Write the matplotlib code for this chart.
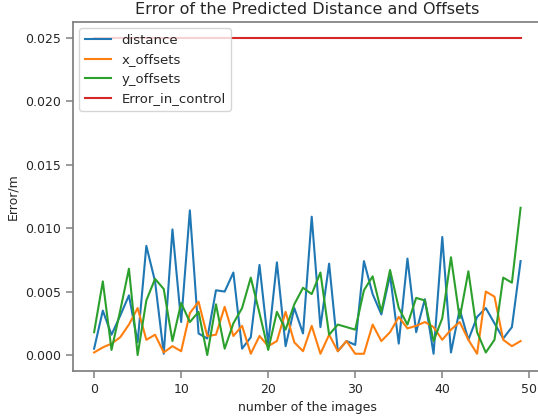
import matplotlib
matplotlib.use('Agg')
import matplotlib.pyplot as plt

# error values
distance = [0.0005, 0.0035, 0.0016, 0.0031, 0.0047, 0.0010, 0.0086, 0.0058, 0.0001, 0.0099,
            0.0026, 0.0114, 0.0017, 0.0013, 0.0051, 0.0050, 0.0065, 0.0005, 0.0014, 0.0071,
            0.0009, 0.0073, 0.0007, 0.0037, 0.0017, 0.0109, 0.0022, 0.0072, 0.0003, 0.0011,
            0.0008, 0.0074, 0.0048, 0.0032, 0.0063, 0.0009, 0.0076, 0.0018, 0.0044, 0.0001,
            0.0093, 0.0002, 0.0036, 0.0012, 0.0030, 0.0037, 0.0025, 0.0013, 0.0022, 0.0074]
x_offsets = [0.0002, 0.0006, 0.0009, 0.0014, 0.0024, 0.0037, 0.0012, 0.0016, 0.0002, 0.0007,
             0.0003, 0.0033, 0.0042, 0.0015, 0.0016, 0.0038, 0.0015, 0.0023, 0.0001, 0.0015,
             0.0007, 0.0011, 0.0034, 0.0010, 0.0003, 0.0023, 0.0001, 0.0016, 0.0003, 0.0011,
             0.0001, 0.0001, 0.0024, 0.0011, 0.0018, 0.0030, 0.0021, 0.0023, 0.0026, 0.0022,
             0.0012, 0.0020, 0.0026, 0.0012, 0.0001, 0.0050, 0.0046, 0.0012, 0.0007, 0.0011]
y_offsets = [0.0018, 0.0058, 0.0004, 0.0035, 0.0068, 0.0000, 0.0043, 0.0060, 0.0052, 0.0011,
             0.0041, 0.0026, 0.0034, 0.0000, 0.0040, 0.0005, 0.0025, 0.0037, 0.0061, 0.0033,
             0.0004, 0.0034, 0.0020, 0.0040, 0.0053, 0.0048, 0.0065, 0.0016, 0.0024, 0.0022,
             0.0020, 0.0051, 0.0062, 0.0034, 0.0067, 0.0037, 0.0024, 0.0045, 0.0043, 0.0011,
             0.0029, 0.0077, 0.0029, 0.0066, 0.0018, 0.0002, 0.0012, 0.0061, 0.0057, 0.0116]
error_in_control = [0.025] * 50
images = list(range(50))

plt.rcParams['font.family'] = 'DejaVu Sans'
plt.rcParams['text.color'] = '0.15'
plt.rcParams['axes.labelcolor'] = '0.15'
plt.rcParams['xtick.color'] = '0.15'
plt.rcParams['ytick.color'] = '0.15'

fig = plt.figure(figsize=(5.38, 4.18), dpi=100)
# right edge of the axes sits just past the figure edge, like the cropped original
ax = fig.add_axes([0.1353, 0.1127, 0.872, 0.835])

ax.plot(images, distance, label='distance', color='#1f77b4', lw=1.5)
ax.plot(images, x_offsets, label='x_offsets', color='#ff7f0e', lw=1.5)
ax.plot(images, y_offsets, label='y_offsets', color='#2ca02c', lw=1.5)
ax.plot(images, error_in_control, label='Error_in_control', color='#d62728', lw=1.5)

for s in ax.spines.values():
    s.set_color('0.5')
    s.set_linewidth(1.25)
ax.tick_params(direction='out', length=5, width=1.1, color='0.5', labelsize=9)
ax.set_xticks([0, 10, 20, 30, 40, 50])
ax.set_yticks([0.0, 0.005, 0.01, 0.015, 0.02, 0.025])
ax.set_yticklabels(['0.000', '0.005', '0.010', '0.015', '0.020', '0.025'])

ax.set_title('Error of the Predicted Distance and Offsets', fontsize=11.5)
ax.set_xlabel('number of the images', fontsize=9)
ax.set_ylabel('Error/m', fontsize=9)
ax.legend(loc='upper left', fontsize=9.5)

plt.savefig('out.png')
